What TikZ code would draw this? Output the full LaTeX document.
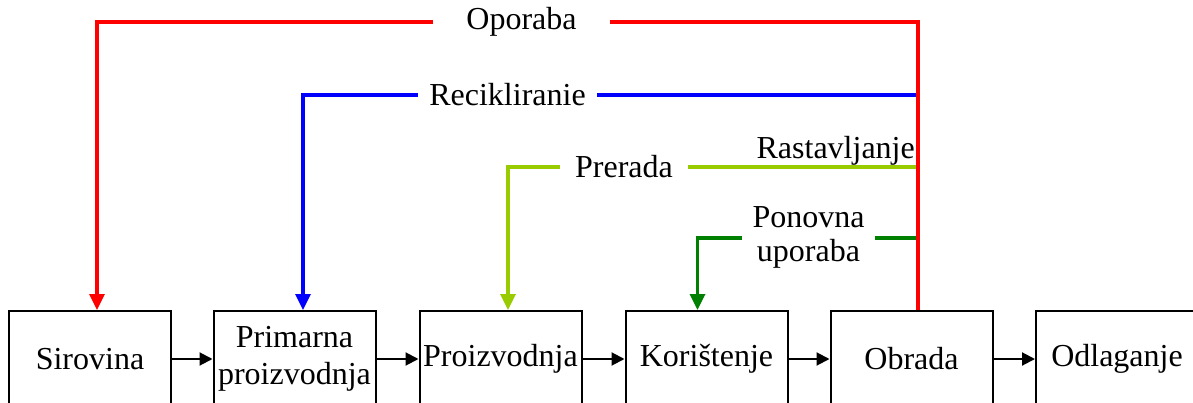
\documentclass[tikz,border=0pt]{standalone}
\usepackage{fontspec}
\setmainfont{Liberation Serif}
\usetikzlibrary{arrows.meta}
\definecolor{rl}{HTML}{FF0000}
\definecolor{bl}{HTML}{0000FF}
\definecolor{yg}{HTML}{99CC00}
\definecolor{dg}{HTML}{008000}
\tikzset{
  stagebox/.style={draw=black, line width=2pt, minimum width=162pt, minimum height=96pt, inner sep=0pt, align=center,
    font=\fontsize{32}{37}\selectfont},
  flowarrow/.style={line width=2pt, -{Triangle[length=13pt,width=13pt]}},
  loopline/.style={line width=3.3pt, -{Triangle[length=16pt,width=15pt]}},
  plainline/.style={line width=3.3pt},
  looplabel/.style={fill=white, inner xsep=0pt, inner ysep=2pt, align=center, font=\fontsize{32}{34}\selectfont}
}
\begin{document}
\begin{tikzpicture}[x=1pt,y=-1pt]
\useasboundingbox (0,0) rectangle (1193,403);
\clip (0,0) rectangle (1193,403);
% stage boxes
\node[stagebox] (s1) at (90,359) {Sirovina};
\node[stagebox] (s2) at (294.5,359) {Primarna\\proizvodnja};
\node[stagebox] (s3) at (500.5,359) {Proizvodnja};
\node[stagebox] (s4) at (706.5,359) {Korištenje};
\node[stagebox] (s5) at (911.5,359) {Obrada};
\node[stagebox] (s6) at (1117,359) {Odlaganje};
% flow arrows
\draw[flowarrow] (s1) -- (s2);
\draw[flowarrow] (s2) -- (s3);
\draw[flowarrow] (s3) -- (s4);
\draw[flowarrow] (s4) -- (s5);
\draw[flowarrow] (s5) -- (s6);
% corner coordinates
\coordinate (rR) at (918,22);
\coordinate (rL) at (97,22);
\coordinate (bR) at (918,95);
\coordinate (bL) at (303,95);
\coordinate (yR) at (918,167);
\coordinate (yL) at (508,167);
\coordinate (gR) at (918,238);
\coordinate (gL) at (697.5,238);
% loops
\draw[loopline, bl] (bR) -- (bL) -- (bL |- s2.north);
\draw[loopline, yg] (yR) -- (yL) -- (yL |- s3.north);
\draw[loopline, dg] (gR) -- (gL) -- (gL |- s4.north);
\draw[loopline, rl] (rR |- s5.north) -- (rR) -- (rL) -- (rL |- s1.north);
% labels
\node[looplabel, minimum width=177pt] (lo) at (521.5,22) {Oporaba};
\node[looplabel, minimum width=179pt] (lr) at (507.5,95) {Recikliranie};
\node[looplabel, minimum width=128pt] (lp) at (624,167) {Prerada};
\node[looplabel, minimum width=133pt] (lu) at (808.5,237) {Ponovna\\uporaba};
\node[anchor=base east, inner sep=0pt, font=\fontsize{32}{34}\selectfont] (la) at (915,159) {Rastavljanje};
\end{tikzpicture}
\end{document}
